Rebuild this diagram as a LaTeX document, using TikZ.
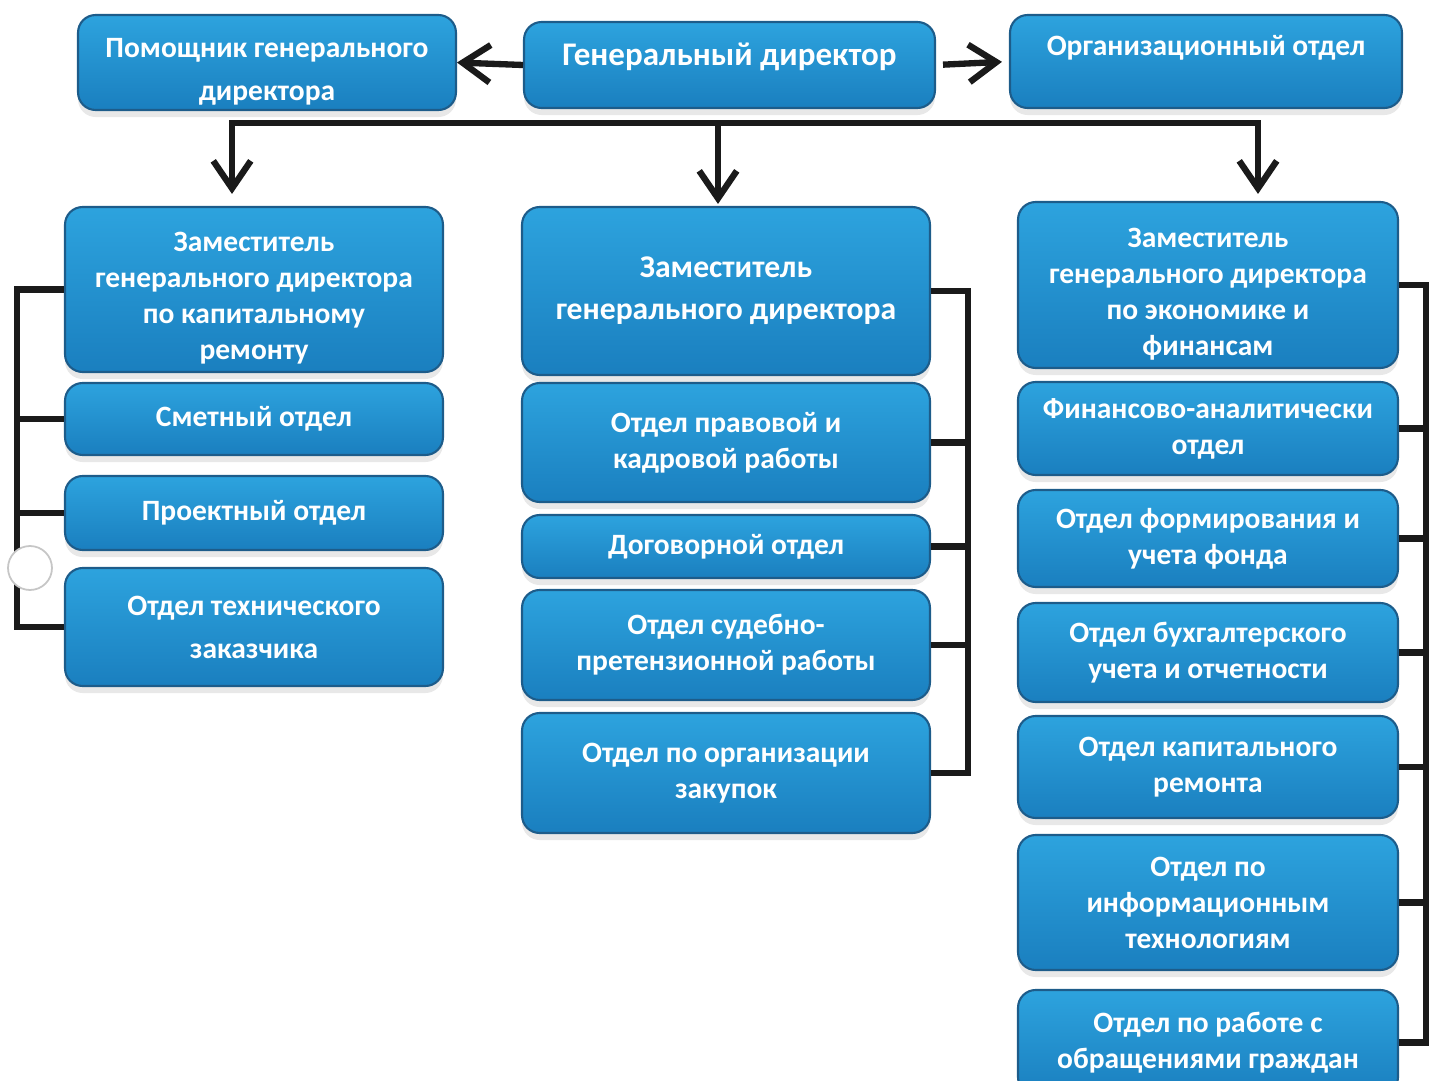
\documentclass[tikz,border=0pt]{standalone}
\usepackage{fontspec}
\setmainfont{Carlito}
\usetikzlibrary{arrows.meta,shadows}

\definecolor{boxtop}{HTML}{2DA3DE}
\definecolor{boxbot}{HTML}{1A7FBF}
\definecolor{boxline}{HTML}{1D5C8A}
\definecolor{wirecol}{HTML}{1A1A1A}

\newcommand{\lowr}{\rule{0pt}{0.74cm}}

\begin{document}
\begin{tikzpicture}[x=0.02cm, y=-0.02cm]
    \tikzstyle{dept}=[draw=boxline, line width=1.2pt, rounded corners=10pt, top color=boxtop, bottom color=boxbot,
        text=white, font=\bfseries\fontsize{16.8}{20.5}\selectfont, align=center, inner sep=2pt,
        drop shadow={opacity=0.18, shadow xshift=0pt, shadow yshift=-4pt}]
    \tikzstyle{wire}=[line width=3.6pt, draw=wirecol]
    \tikzstyle{marrs}=[wire, -{Straight Barb[length=5.5mm, width=7.5mm]}]

    \useasboundingbox (0,0) rectangle (1431,1081);

    % top row
    \node[dept, minimum width=7.56cm, minimum height=1.9cm] (pom) at (267,62.5) {\lowr Помощник генерального\\[4pt]директора};
    \node[dept, minimum width=8.22cm, minimum height=1.72cm, text depth=0.42cm, font=\bfseries\fontsize{18.8}{22}\selectfont] (gen) at (729.5,65) {Генеральный директор};
    \node[dept, minimum width=7.84cm, minimum height=1.86cm, text depth=0.64cm] (org) at (1206,61.5) {Организационный отдел};

    % left column
    \node[dept, minimum width=7.56cm, minimum height=3.3cm] (zamL) at (254,289.5) {\lowr Заместитель\\генерального директора\\по капитальному\\ремонту};
    \node[dept, minimum width=7.56cm, minimum height=1.44cm] (smet) at (254,419) {Сметный отдел};
    \node[dept, minimum width=7.56cm, minimum height=1.48cm] (proekt) at (254,513) {Проектный отдел};
    \node[dept, minimum width=7.56cm, minimum height=2.36cm] (teh) at (254,627) {Отдел технического\\[4pt]заказчика};

    % middle column
    \node[dept, minimum width=8.16cm, minimum height=3.36cm, font=\bfseries\fontsize{18}{22}\selectfont] (zam2) at (726,291) {Заместитель\\[2pt]генерального директора};
    \node[dept, minimum width=8.16cm, minimum height=2.38cm] (prav) at (726,442.5) {Отдел правовой и\\кадровой работы};
    \node[dept, minimum width=8.16cm, minimum height=1.26cm] (dog) at (726,546.5) {Договорной отдел};
    \node[dept, minimum width=8.16cm, minimum height=2.2cm] (sud) at (726,645) {Отдел судебно-\\претензионной работы};
    \node[dept, minimum width=8.16cm, minimum height=2.4cm] (zak) at (726,773) {Отдел по организации\\закупок};

    % right column
    \node[dept, minimum width=7.6cm, minimum height=3.32cm] (zam3) at (1208,285) {\lowr Заместитель\\генерального директора\\по экономике и\\финансам};
    \node[dept, minimum width=7.6cm, minimum height=1.86cm] (fin) at (1208,428.5) {Финансово-аналитически\\отдел};
    \node[dept, minimum width=7.6cm, minimum height=1.94cm] (form) at (1208,538.5) {Отдел формирования и\\учета фонда};
    \node[dept, minimum width=7.6cm, minimum height=1.98cm] (buh) at (1208,652.5) {Отдел бухгалтерского\\учета и отчетности};
    \node[dept, minimum width=7.6cm, minimum height=2.04cm] (kap) at (1208,767) {Отдел капитального\\ремонта};
    \node[dept, minimum width=7.6cm, minimum height=2.7cm] (it) at (1208,902.5) {Отдел по\\информационным\\технологиям};
    \node[dept, minimum width=7.6cm, minimum height=2.1cm] (grazh) at (1208,1042.5) {Отдел по работе с\\обращениями граждан};

    \coordinate (busL) at (232,123);
    \coordinate (busM) at (718,123);
    \coordinate (busR) at (1258,123);
    \coordinate (lbus) at (17,0);
    \coordinate (mbus) at (968,0);
    \coordinate (rbus) at (1426,0);

    \draw[marrs] (gen.west) -- (pom.east);
    \draw[marrs, shorten <=4pt, shorten >=4pt] (gen.east) -- (org.west);

    \draw[wire, line cap=rect] (busL) -- (busR);
    \draw[marrs, shorten >=0.24cm] (busL) -- (busL |- zamL.north);
    \draw[marrs, shorten >=0.04cm] (busM) -- (busM |- zam2.north);
    \draw[marrs, shorten >=0.14cm] (busR) -- (busR |- zam3.north);

    \draw[wire] (zamL.west) -- (zamL.west -| lbus) |- (teh.west);
    \foreach \n in {smet,proekt}
        \draw[wire] (\n.west) -- (\n.west -| lbus);

    \draw[wire] (zam2.east) -- (zam2.east -| mbus) |- (zak.east);
    \foreach \n in {prav,dog,sud}
        \draw[wire] (\n.east) -- (\n.east -| mbus);

    \draw[wire] (zam3.east) -- (zam3.east -| rbus) |- (grazh.east);
    \foreach \n in {fin,form,buh,kap,it}
        \draw[wire] (\n.east) -- (\n.east -| rbus);

    \node[circle, draw=gray!45, fill=white, line width=1pt, minimum size=0.88cm, inner sep=0pt] (blot) at (30,568) {};

\end{tikzpicture}
\end{document}
